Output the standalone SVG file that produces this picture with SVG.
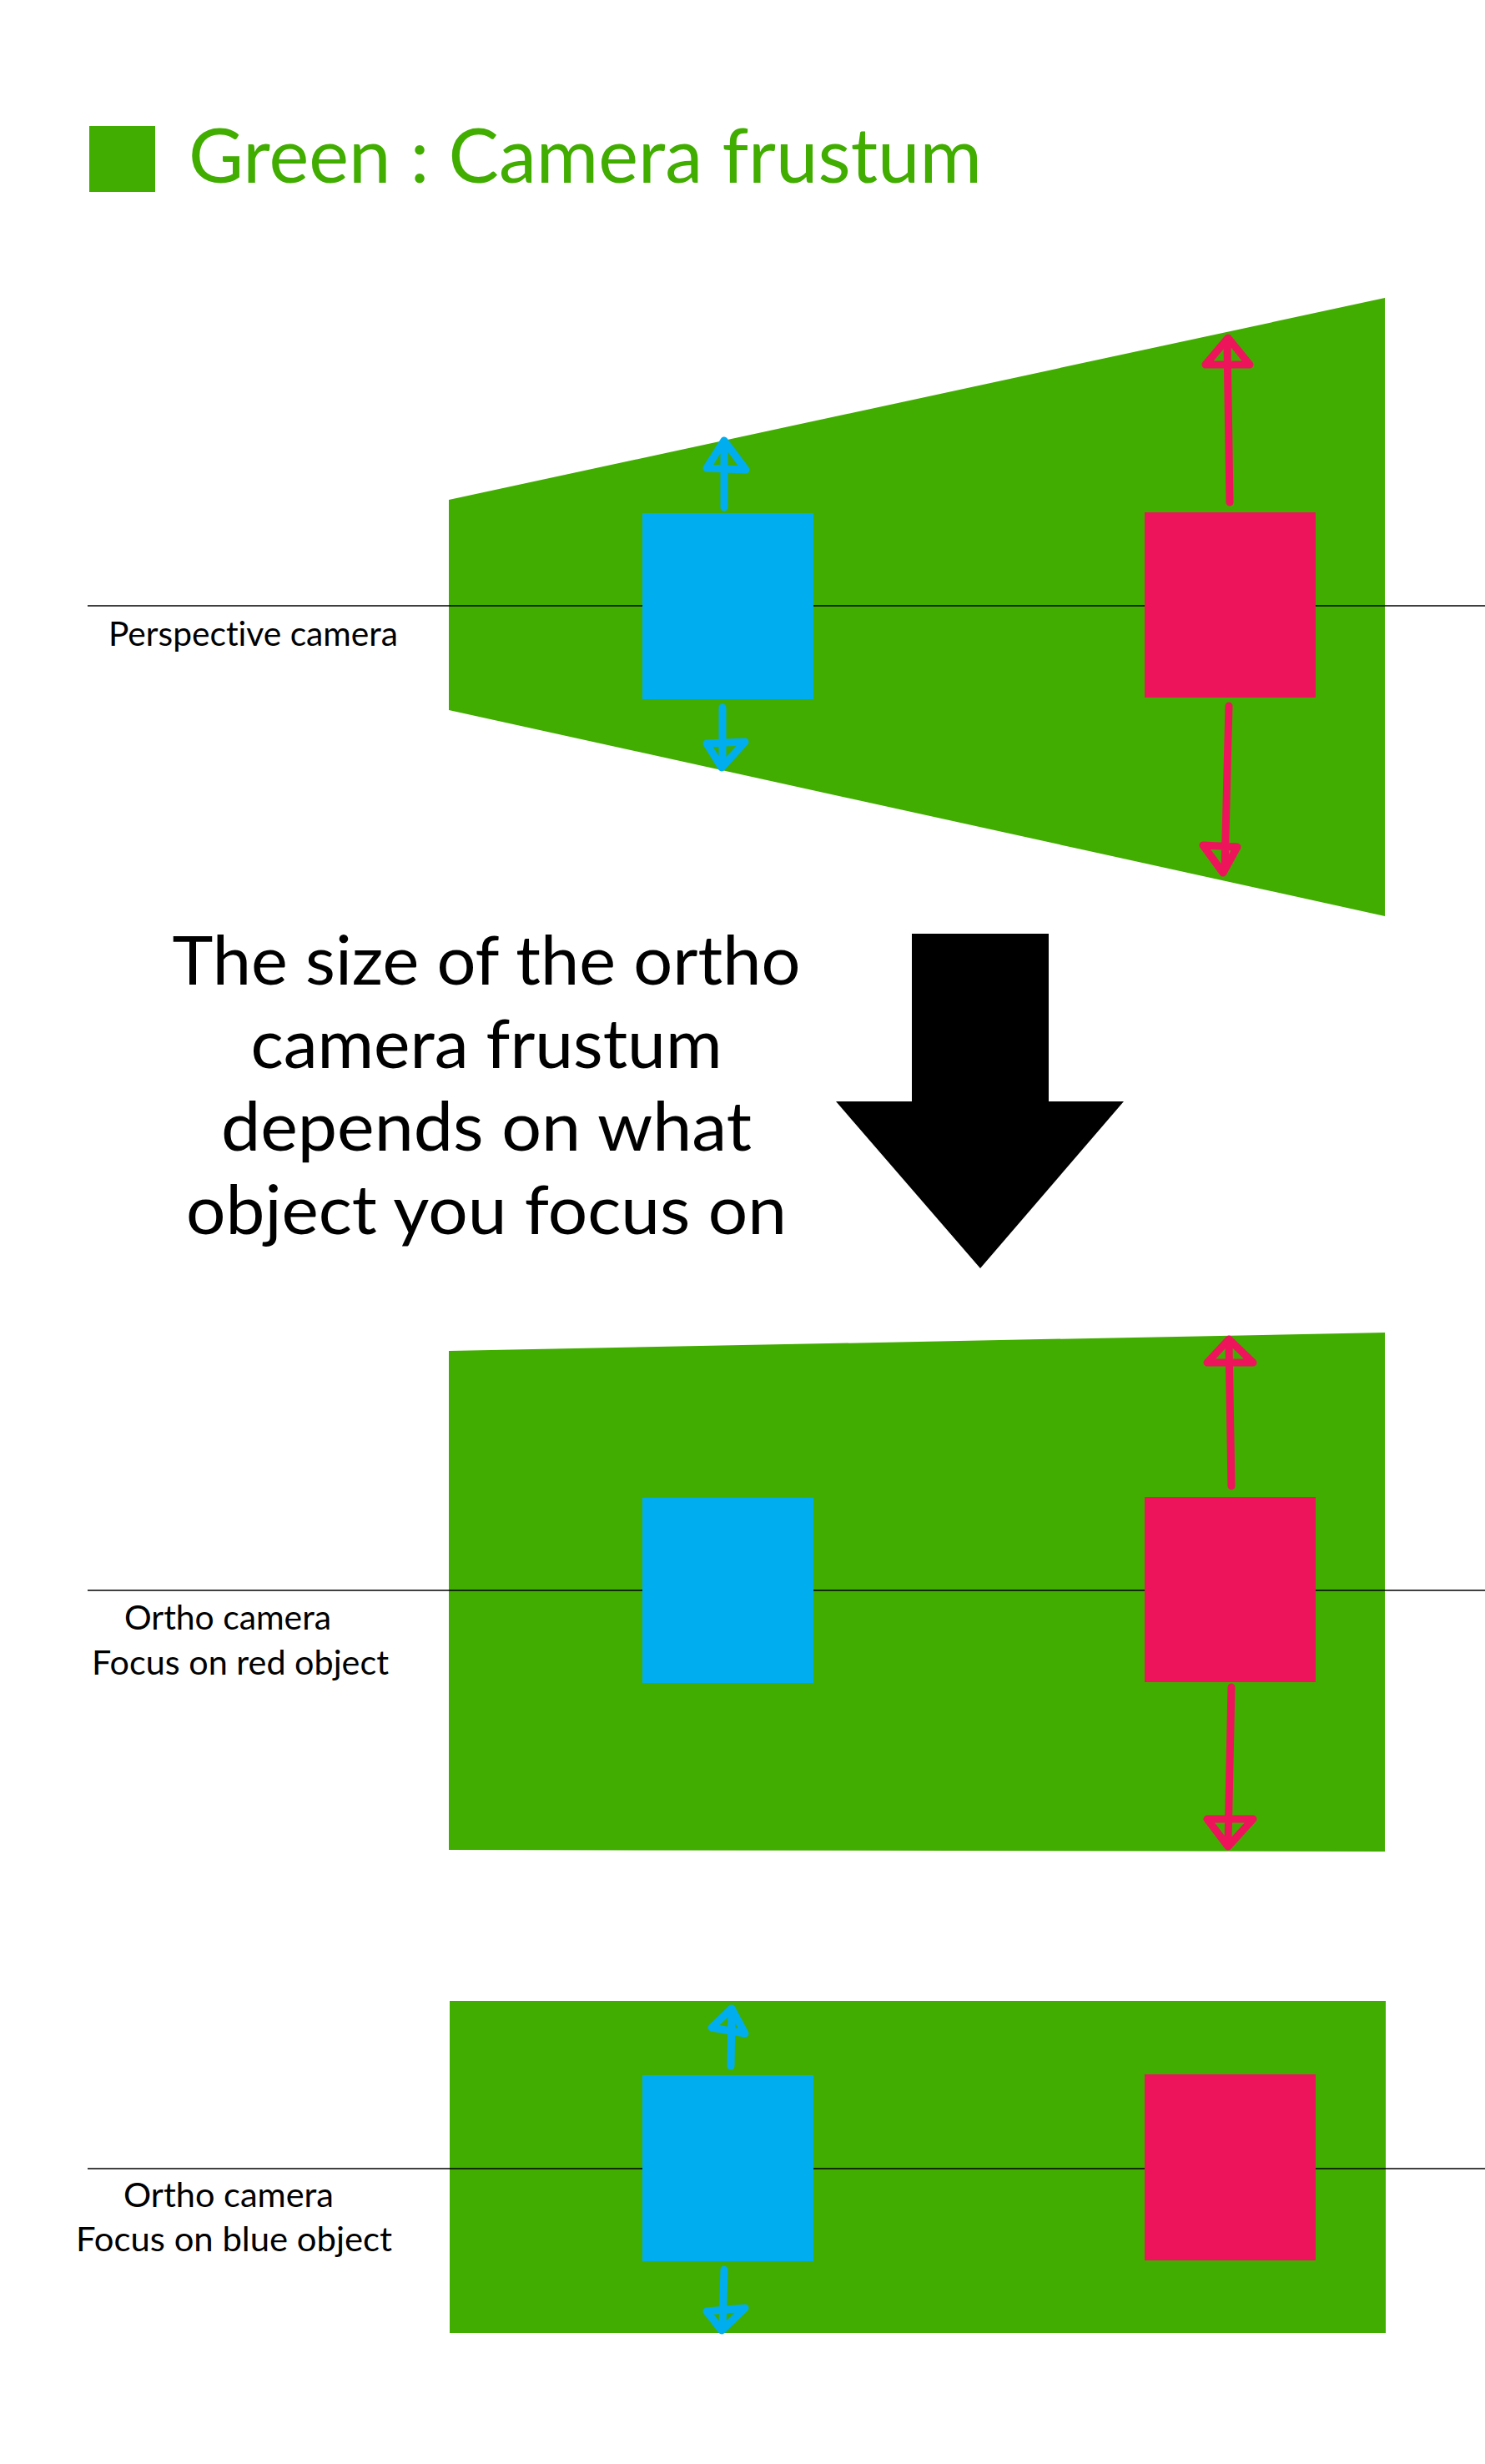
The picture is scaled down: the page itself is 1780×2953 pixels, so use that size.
<svg xmlns="http://www.w3.org/2000/svg" width="1780" height="2953" viewBox="0 0 1780 2953">
<style>
.frustum{fill:#41AD00}
.blue{fill:#00AEEF}
.red{fill:#EE145B}
.axis{stroke:#000;stroke-width:1.3;fill:none}
.arr{fill:none;stroke-width:9;stroke-linecap:round;stroke-linejoin:round}
.arr-blue{stroke:#00AEEF}
.arr-red{stroke:#EE145B}
text{font-variant-ligatures:none}
.lbl{font-family:Lato,"Noto Sans","Liberation Sans",sans-serif;fill:#000}
.title{font-family:Lato,"Noto Sans","Liberation Sans",sans-serif;fill:#41AD00;font-size:91px}
.big{font-family:Lato,"Noto Sans","Liberation Sans",sans-serif;fill:#000;font-size:82px;text-anchor:middle}
.small{font-size:40px}
</style>
<rect width="1780" height="2953" fill="#fff"/>

<g id="legend">
  <rect x="107" y="151" width="79" height="79" class="frustum"/>
  <text class="title" x="226" y="219" textLength="951" lengthAdjust="spacingAndGlyphs">Green : Camera frustum</text>
</g>

<g id="perspective-frustum">
  <polygon class="frustum" points="538,599 1660,357 1660,1098 538,851"/>
  <line class="axis" x1="105" y1="726" x2="1780" y2="726"/>
  <text class="lbl small" x="130" y="774" textLength="347" lengthAdjust="spacingAndGlyphs">Perspective camera</text>
</g>
<g id="perspective-blue"><rect class="blue" x="770" y="615" width="205" height="223"/></g>
<g id="perspective-red"><rect class="red" x="1372" y="614" width="205" height="222"/></g>

<g id="caption">
  <text class="big" x="583" y="1180" textLength="753" lengthAdjust="spacingAndGlyphs">The size of the ortho</text>
  <text class="big" x="583" y="1280" textLength="565" lengthAdjust="spacingAndGlyphs">camera frustum</text>
  <text class="big" x="583" y="1379" textLength="636" lengthAdjust="spacingAndGlyphs">depends on what</text>
  <text class="big" x="583" y="1479" textLength="720" lengthAdjust="spacingAndGlyphs">object you focus on</text>
</g>
<g id="big-arrow">
  <polygon fill="#000" points="1093,1119 1257,1119 1257,1320 1347,1320 1175,1520 1002,1320 1093,1320"/>
</g>

<g id="ortho-red-frustum">
  <polygon class="frustum" points="538,1619 1660,1597 1660,2219 538,2217"/>
  <line class="axis" x1="105" y1="1906" x2="1780" y2="1906"/>
  <text class="lbl small" x="149" y="1953" textLength="248" lengthAdjust="spacingAndGlyphs">Ortho camera</text>
  <text class="lbl small" x="110" y="2007" textLength="356" lengthAdjust="spacingAndGlyphs">Focus on red object</text>
</g>
<g id="ortho-red-blue"><rect class="blue" x="770" y="1795" width="205" height="222"/></g>
<g id="ortho-red-red"><rect class="red" x="1372" y="1794" width="205" height="222"/></g>

<g id="ortho-blue-frustum">
  <rect class="frustum" x="539" y="2398" width="1122" height="398"/>
  <line class="axis" x1="105" y1="2599" x2="1780" y2="2599"/>
  <text class="lbl small" x="148" y="2645" textLength="252" lengthAdjust="spacingAndGlyphs">Ortho camera</text>
  <text class="lbl small" x="91" y="2698" textLength="379" lengthAdjust="spacingAndGlyphs">Focus on blue object</text>
</g>
<g id="ortho-blue-blue"><rect class="blue" x="770" y="2487" width="205" height="223"/></g>
<g id="ortho-blue-red"><rect class="red" x="1372" y="2486" width="205" height="223"/></g>

<g id="connectors">
  <path class="arr arr-blue" d="M868,608 L868,531 M847,561 L868,528 L894,563 Z"/>
  <path class="arr arr-blue" d="M866,848 L866,917 M847,891 L893,889 L865,920 Z"/>
  <path class="arr arr-red" d="M1474,602 L1471,410 M1445,437 L1472,405 L1498,437 Z"/>
  <path class="arr arr-red" d="M1473,846 L1468,1042 M1442,1013 L1483,1015 L1466,1046 Z"/>
  <path class="arr arr-red" d="M1476,1781 L1473,1610 M1447,1633 L1473,1605 L1502,1633 Z"/>
  <path class="arr arr-red" d="M1476,2022 L1472,2208 M1447,2180 L1502,2180 L1472,2213 Z"/>
  <path class="arr arr-blue" d="M876,2476 L877,2413 M853,2430 L877,2407 L893,2437 Z"/>
  <path class="arr arr-blue" d="M868,2720 L866,2790 M847,2770 L893,2766 L865,2793 Z"/>
</g>
</svg>
